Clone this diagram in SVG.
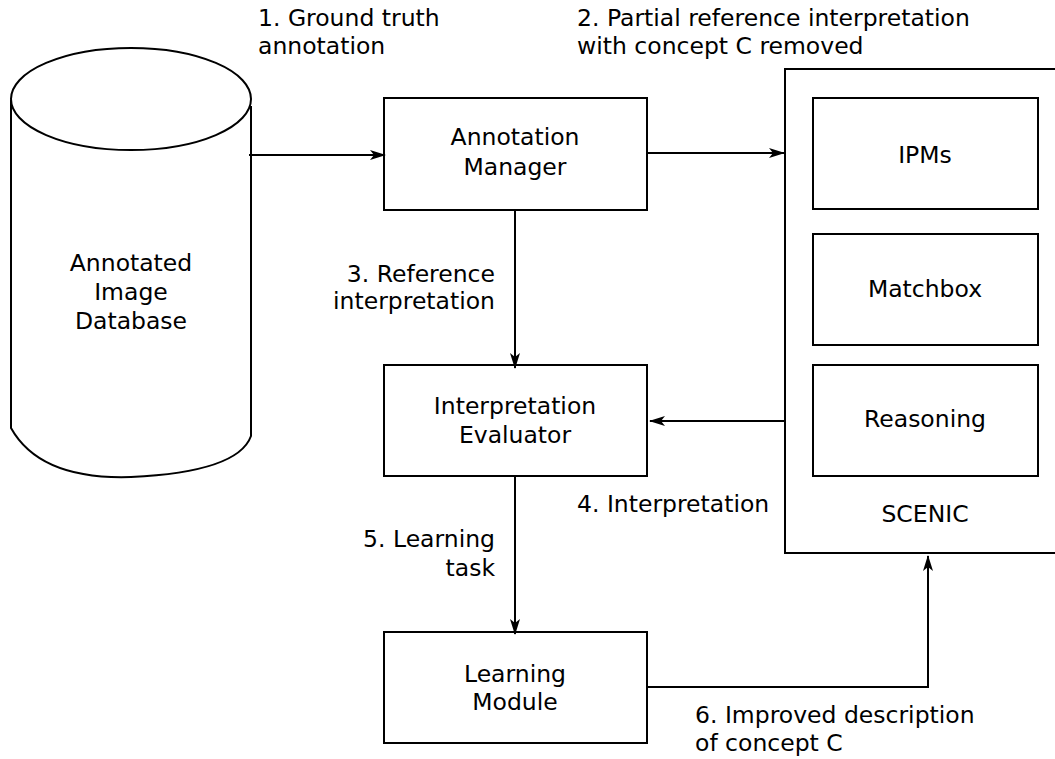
<svg xmlns="http://www.w3.org/2000/svg" width="1055" height="759" viewBox="0 0 1055 759">
  <style>
    text { font-family: "DejaVu Sans", sans-serif; font-size: 23.5px; fill: #000; }
    .c { text-anchor: middle; }
    .r { text-anchor: end; }
    .box { fill: #fff; stroke: #000; stroke-width: 2; }
    .edge { fill: none; stroke: #000; stroke-width: 2; }
  </style>
  <defs>
    <marker id="arrow" viewBox="0 0 16 10" refX="15" refY="5" markerWidth="16" markerHeight="10" markerUnits="userSpaceOnUse" orient="auto">
      <path d="M0,0 L16,5 L0,10 L4,5 Z" fill="#000"/>
    </marker>
  </defs>

  <rect width="1055" height="759" fill="#fff"/>

  <!-- database cylinder -->
  <g id="database">
    <path class="box" d="M11,100 L11,428 Q40,480 131,477 Q238,472 251,436 L251,106"/>
    <ellipse class="box" cx="131" cy="99" rx="120" ry="51"/>
    <text class="c" x="131" y="271">Annotated</text>
    <text class="c" x="131" y="300">Image</text>
    <text class="c" x="131" y="329">Database</text>
  </g>

  <g id="annotation-manager">
    <rect class="box" x="384" y="98" width="263" height="112"/>
    <text class="c" x="515" y="145">Annotation</text>
    <text class="c" x="515" y="175">Manager</text>
  </g>

  <g id="interpretation-evaluator">
    <rect class="box" x="384" y="365" width="263" height="111"/>
    <text class="c" x="515" y="414">Interpretation</text>
    <text class="c" x="515" y="443">Evaluator</text>
  </g>

  <g id="learning-module">
    <rect class="box" x="384" y="632" width="263" height="111"/>
    <text class="c" x="515" y="682">Learning</text>
    <text class="c" x="515" y="710">Module</text>
  </g>

  <g id="scenic">
    <rect class="box" x="785" y="69" width="280" height="484"/>
    <text class="c" x="925" y="522">SCENIC</text>
  </g>

  <g id="ipms">
    <rect class="box" x="813" y="98" width="225" height="111"/>
    <text class="c" x="925" y="163">IPMs</text>
  </g>

  <g id="matchbox">
    <rect class="box" x="813" y="234" width="225" height="111"/>
    <text class="c" x="925" y="297">Matchbox</text>
  </g>

  <g id="reasoning">
    <rect class="box" x="813" y="365" width="225" height="111"/>
    <text class="c" x="925" y="427">Reasoning</text>
  </g>

  <!-- connectors -->
  <g id="connectors">
    <line class="edge" x1="249" y1="155" x2="385" y2="155" marker-end="url(#arrow)"/>
    <line class="edge" x1="647" y1="153" x2="784" y2="153" marker-end="url(#arrow)"/>
    <line class="edge" x1="515" y1="210" x2="515" y2="368" marker-end="url(#arrow)"/>
    <line class="edge" x1="785" y1="421" x2="650" y2="421" marker-end="url(#arrow)"/>
    <line class="edge" x1="515" y1="476" x2="515" y2="634" marker-end="url(#arrow)"/>
    <polyline class="edge" points="647,687 928,687 928,556" marker-end="url(#arrow)"/>
  </g>

  <!-- connector labels -->
  <g id="labels">
    <text x="258" y="26">1. Ground truth</text>
    <text x="258" y="54">annotation</text>
    <text x="577" y="26">2. Partial reference interpretation</text>
    <text x="577" y="54">with concept C removed</text>
    <text class="r" x="495" y="282">3. Reference</text>
    <text class="r" x="495" y="309">interpretation</text>
    <text x="577" y="512">4. Interpretation</text>
    <text class="r" x="495" y="547">5. Learning</text>
    <text class="r" x="495" y="576">task</text>
    <text x="695" y="723">6. Improved description</text>
    <text x="695" y="751">of concept C</text>
  </g>
</svg>
